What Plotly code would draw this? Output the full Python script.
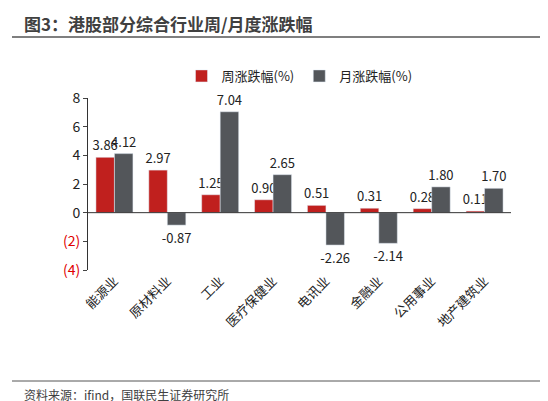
import plotly.graph_objects as go

categories = ["能源业", "原材料业", "工业", "医疗保健业", "电讯业", "金融业", "公用事业", "地产建筑业"]
weekly = [3.86, 2.97, 1.25, 0.90, 0.51, 0.31, 0.28, 0.11]
monthly = [4.12, -0.87, 7.04, 2.65, -2.26, -2.14, 1.80, 1.70]
tick_vals = [-4, -2, 0, 2, 4, 6, 8]
tick_text = ["<span style='color:#E00000'>(4)</span>", "<span style='color:#E00000'>(2)</span>",
             "0", "2", "4", "6", "8"]

font = "Noto Sans CJK SC"
fig = go.Figure()
fig.add_trace(go.Bar(x=categories, y=weekly, name="周涨跌幅(%)", marker_color="#C0201E",
                     text=["%.2f" % v for v in weekly], textposition="outside",
                     constraintext="none", textfont=dict(size=13, color="#222")))
fig.add_trace(go.Bar(x=categories, y=monthly, name="月涨跌幅(%)", marker_color="#53565A",
                     text=["%.2f" % v for v in monthly], textposition="outside",
                     constraintext="none", textfont=dict(size=13, color="#222")))

fig.update_layout(
    width=548, height=401, barmode="group", bargap=0.3, bargroupgap=0,
    plot_bgcolor="white", paper_bgcolor="white",
    font=dict(family=font, size=13, color="#222"),
    margin=dict(l=80, r=45, t=90, b=139, autoexpand=False),
    showlegend=True,
    legend=dict(orientation="h", x=0.5, xanchor="center", y=1.128, yanchor="middle",
                font=dict(size=13), itemwidth=30),
)
fig.update_yaxes(range=[-4, 8], tickvals=tick_vals, ticktext=tick_text, showgrid=False,
                 showline=True, linecolor="#333", ticks="outside", ticklen=4,
                 zeroline=False, tickfont=dict(size=14))
fig.update_xaxes(tickangle=-45, showline=False, tickfont=dict(size=13))
fig.add_hline(y=0, line_color="#333", line_width=1)
fig.update_traces(cliponaxis=False)

fig.add_annotation(text="<b>图3：港股部分综合行业周/月度涨跌幅</b>", x=14/548, y=1 - 16/401,
                   xref="paper", yref="paper", showarrow=False, xanchor="left", yanchor="middle",
                   font=dict(size=17, color="#404040"))
fig.add_annotation(text="资料来源：ifind，国联民生证券研究所", x=14/548, y=1 - 386/401,
                   xref="paper", yref="paper", showarrow=False, xanchor="left", yanchor="middle",
                   font=dict(size=12, color="#404040"))
fig.add_shape(type="line", xref="paper", yref="paper", x0=4/548, x1=544/548,
              y0=1 - 29/401, y1=1 - 29/401, line=dict(color="#555", width=1.5))
fig.add_shape(type="line", xref="paper", yref="paper", x0=4/548, x1=544/548,
              y0=1 - 373/401, y1=1 - 373/401, line=dict(color="#555", width=1))
# paper coords span the plot area; convert
h = 401 - 90 - 139
w = 548 - 80 - 45
for a in fig.layout.annotations:
    py = (1 - a.y) * 401
    a.y = (401 - 139 - py) / h
    a.x = (a.x * 548 - 80) / w
for s in fig.layout.shapes:
    if s.xref == "paper":
        s.x0 = (s.x0 * 548 - 80) / w
        s.x1 = (s.x1 * 548 - 80) / w
        s.y0 = (401 - 139 - (1 - s.y0) * 401) / h
        s.y1 = (401 - 139 - (1 - s.y1) * 401) / h
fig.write_html("out.html")
